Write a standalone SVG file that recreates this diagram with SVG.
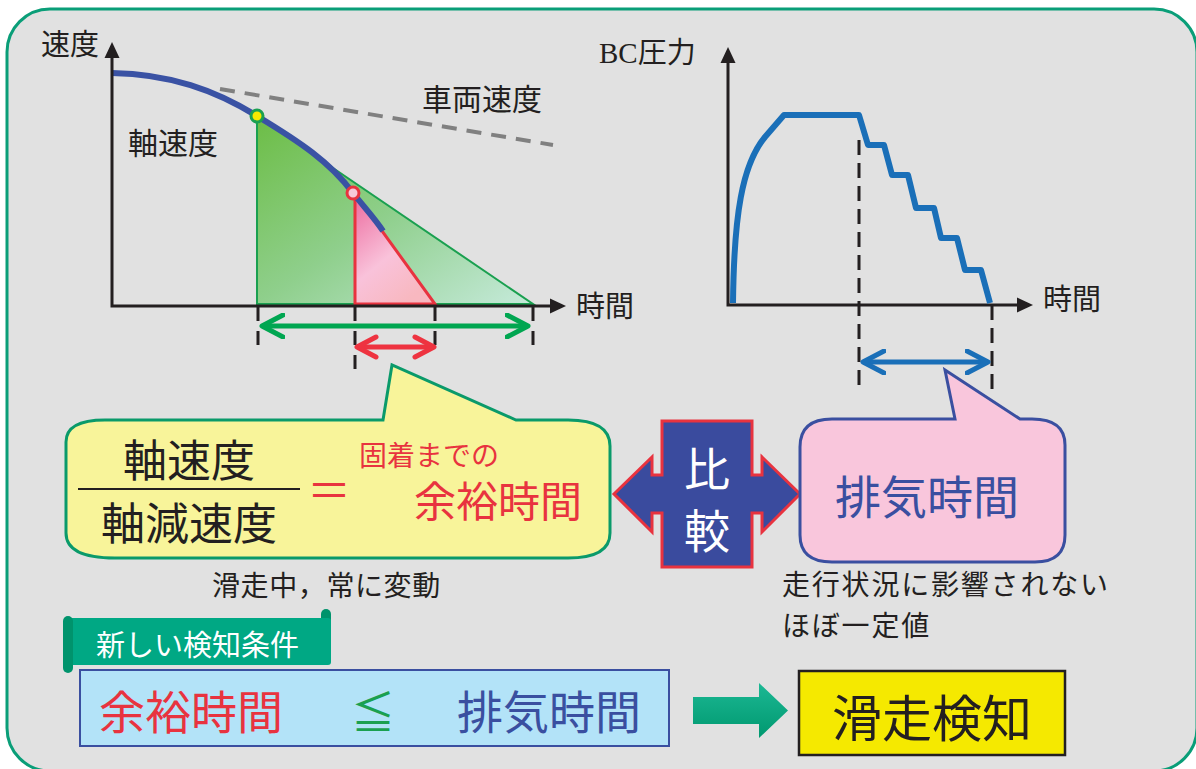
<svg xmlns="http://www.w3.org/2000/svg" width="1196" height="769" viewBox="0 0 1196 769">
<style>
.t{font-family:"Noto Sans CJK JP","Noto Sans",sans-serif;fill:#231f20}
.red{fill:#e8333f}
.navy{fill:#3a4fa0}
.wht{fill:#ffffff}
.ax{fill:none;stroke:#231f20;stroke-width:3}
.tick{stroke:#231f20;stroke-width:3;stroke-dasharray:14 10}
</style>
<defs>
<marker id="axh" viewBox="0 0 16 16" markerUnits="userSpaceOnUse" markerWidth="16" markerHeight="16" refX="12" refY="8" orient="auto-start-reverse">
<path d="M0,0.5 L16,8 L0,15.5 Z" fill="#231f20"/>
</marker>
<marker id="hg" viewBox="0 0 26 26" markerUnits="userSpaceOnUse" markerWidth="26" markerHeight="26" refX="23" refY="13" orient="auto-start-reverse">
<path d="M2,2 L23,13 L2,24" fill="none" stroke="#00a651" stroke-width="5" stroke-linecap="round" stroke-linejoin="round"/>
</marker>
<marker id="hr" viewBox="0 0 26 26" markerUnits="userSpaceOnUse" markerWidth="26" markerHeight="26" refX="23" refY="13" orient="auto-start-reverse">
<path d="M4,3 L23,13 L4,23" fill="none" stroke="#ee3340" stroke-width="5" stroke-linecap="round" stroke-linejoin="round"/>
</marker>
<marker id="hb" viewBox="0 0 26 26" markerUnits="userSpaceOnUse" markerWidth="26" markerHeight="26" refX="23" refY="13" orient="auto-start-reverse">
<path d="M2,2 L23,13 L2,24" fill="none" stroke="#1a6fb8" stroke-width="5" stroke-linecap="round" stroke-linejoin="round"/>
</marker>
<linearGradient id="gG" x1="0" y1="0" x2="1" y2="1">
<stop offset="0" stop-color="#6cbd45"/>
<stop offset="0.5" stop-color="#8fcf8c"/>
<stop offset="1" stop-color="#c6eadb"/>
</linearGradient>
<linearGradient id="gP" x1="0" y1="0" x2="0.6" y2="1">
<stop offset="0" stop-color="#ec6a9e"/>
<stop offset="0.6" stop-color="#f9c2da"/>
<stop offset="1" stop-color="#f8b8c0"/>
</linearGradient>
<linearGradient id="gA" x1="0" y1="0" x2="0" y2="1">
<stop offset="0" stop-color="#1cb894"/>
<stop offset="1" stop-color="#00986f"/>
</linearGradient>
</defs>

<rect id="frame" x="7" y="9" width="1190" height="762" rx="43" fill="#e1e1e1" stroke="#0a9e78" stroke-width="3"/>

<g id="chart-left">
<path d="M257,116 C285,133 312,150 333,168 L533,304 L257,304 Z" fill="url(#gG)" stroke="#1aa050" stroke-width="2"/>
<path d="M355,195 C366,208 376,220 382,231 L435,304 L355,304 Z" fill="url(#gP)" stroke="#e8333f" stroke-width="3"/>
<line x1="220" y1="89" x2="553" y2="145" stroke="#808080" stroke-width="4" stroke-dasharray="15 10"/>
<path d="M112,73 C170,74 215,90 257,116 C300,142 330,162 353,193 C365,208 376,220 383,231" fill="none" stroke="#3a52a4" stroke-width="6"/>
<circle cx="257" cy="116" r="6" fill="#f5e800" stroke="#1aa050" stroke-width="3"/>
<circle cx="353" cy="193" r="6" fill="#f7c8d8" stroke="#e8333f" stroke-width="3"/>
<path class="ax" d="M112,46 L112,306 L562,306" marker-start="url(#axh)" marker-end="url(#axh)"/>
<line class="tick" x1="258" y1="307" x2="258" y2="350"/>
<line class="tick" x1="355" y1="307" x2="355" y2="369"/>
<line class="tick" x1="435" y1="307" x2="435" y2="350"/>
<line class="tick" x1="533" y1="307" x2="533" y2="350"/>
<text class="t" x="41" y="55" font-size="29">速度</text>
<text class="t" x="422" y="110" font-size="30">車両速度</text>
<text class="t" x="128" y="154" font-size="30">軸速度</text>
<text class="t" x="576" y="317" font-size="29">時間</text>
</g>

<g id="chart-right">
<line x1="859" y1="140" x2="859" y2="390" stroke="#231f20" stroke-width="3" stroke-dasharray="15 8"/>
<line x1="992" y1="305" x2="992" y2="390" stroke="#231f20" stroke-width="3" stroke-dasharray="15 8"/>
<path class="ax" d="M728,51 L728,305 L1029,305" marker-start="url(#axh)" marker-end="url(#axh)"/>
<path d="M733,303 C734,215 742,165 765,137 L784,115 L859,115 L868,145 L884,145 L892,175 L908,175 L916,208 L934,208 L941,238 L957,238 L965,270 L981,270 L990,303" fill="none" stroke="#1a6fb8" stroke-width="6" stroke-linejoin="round"/>
<text x="599" y="63" font-size="29" font-family="'Liberation Serif','Noto Sans CJK JP',serif" fill="#231f20">BC圧力</text>
<text class="t" x="1043" y="310" font-size="29">時間</text>
</g>

<g id="connectors">
<line x1="262" y1="326" x2="528" y2="326" stroke="#00a651" stroke-width="5" marker-start="url(#hg)" marker-end="url(#hg)"/>
<line x1="357" y1="347" x2="434" y2="347" stroke="#ee3340" stroke-width="5" marker-start="url(#hr)" marker-end="url(#hr)"/>
<line x1="863" y1="362" x2="988" y2="362" stroke="#1a6fb8" stroke-width="5" marker-start="url(#hb)" marker-end="url(#hb)"/>
<path id="arrow-detect" d="M693,697 L759,697 L759,683 L788,710.5 L759,738 L759,724 L693,724 Z" fill="url(#gA)"/>
</g>

<g id="bubble-margin">
<path d="M105,420 L383,420 L392,365 L516,420 L568,420 Q610,420 610,446 L610,533 Q610,558 568,558 L115,558 Q66,558 66,533 L66,442 Q66,420 105,420 Z" fill="#f8f49a" stroke="#0a9a6a" stroke-width="3"/>
<text class="t" x="189" y="477" font-size="44" text-anchor="middle">軸速度</text>
<line x1="78" y1="489" x2="300" y2="489" stroke="#231f20" stroke-width="2"/>
<text class="t" x="189" y="540" font-size="44" text-anchor="middle">軸減速度</text>
<text class="t red" x="329" y="507" font-size="44" text-anchor="middle">＝</text>
<text class="t red" x="359" y="466" font-size="28">固着までの</text>
<text class="t red" x="414" y="517" font-size="42">余裕時間</text>
<text class="t" x="212" y="596" font-size="28" letter-spacing="0.6">滑走中，常に変動</text>
</g>

<g id="compare">
<path d="M662,421 L752,421 L752,475 L762,475 L762,457 L800,494 L762,532 L762,513 L752,513 L752,567 L662,567 L662,513 L652,513 L652,532 L614,494 L652,457 L652,475 L662,475 Z" fill="#3a4b9e" stroke="#e8333f" stroke-width="3"/>
<text class="t wht" x="707" y="486" font-size="46" text-anchor="middle">比</text>
<text class="t wht" x="707" y="548" font-size="46" text-anchor="middle">較</text>
</g>

<g id="bubble-exhaust">
<path d="M832,419 L955,419 L945,370 L1020,419 L1032,419 Q1065,419 1065,445 L1065,535 Q1065,562 1035,562 L832,562 Q800,562 800,535 L800,447 Q800,419 832,419 Z" fill="#f9c6dc" stroke="#3a4fa0" stroke-width="3"/>
<text class="t navy" x="927" y="514" font-size="46" text-anchor="middle">排気時間</text>
<text class="t" x="782" y="595" font-size="28" letter-spacing="1.8">走行状況に影響されない</text>
<text class="t" x="782" y="636" font-size="28" letter-spacing="1.8">ほぼ一定値</text>
</g>

<g id="tag">
<rect x="321" y="609" width="10" height="16" rx="5" fill="#00936c"/>
<rect x="66" y="618" width="265" height="47" rx="3" fill="#00a884"/>
<rect x="63" y="616" width="10" height="57" rx="5" fill="#00936c"/>
<text class="t wht" x="96" y="656" font-size="29">新しい検知条件</text>
</g>

<g id="condition">
<rect x="80" y="670" width="589" height="76" fill="#b3e3f8" stroke="#3a4fa0" stroke-width="2"/>
<text class="t red" x="99" y="729" font-size="46">余裕時間</text>
<text class="t" x="351" y="729" font-size="44" style="fill:#1aa050">≦</text>
<text class="t navy" x="457" y="729" font-size="46">排気時間</text>
</g>

<g id="detect">
<rect x="799" y="671" width="266" height="84" fill="#f5e900" stroke="#231f20" stroke-width="2.5"/>
<text class="t" x="932" y="737" font-size="50" text-anchor="middle">滑走検知</text>
</g>
</svg>
